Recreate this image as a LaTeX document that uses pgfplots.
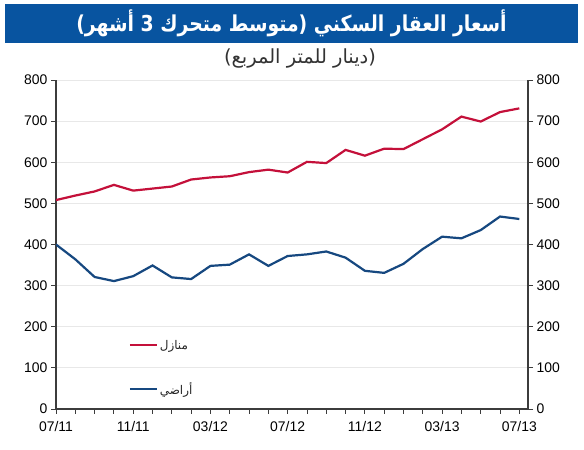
\documentclass[border=0pt]{standalone}
\usepackage{pgfplots}
\pgfplotsset{compat=1.18}
\usepackage{pgfplotstable}
\usepackage{graphicx}
\usepackage{fontspec}
\setmainfont{Liberation Sans}
\newfontfamily\arabicfont[Script=Arabic]{DejaVu Sans}
\TeXXeTstate=1

\definecolor{titleblue}{RGB}{8,84,160}
\definecolor{housered}{RGB}{196,16,58}
\definecolor{landblue}{RGB}{22,72,128}
\definecolor{gridgray}{RGB}{232,232,232}
\definecolor{axisgray}{RGB}{60,60,60}

% Residential property prices, 3-month moving average (dinar per square metre)
% m = months since 07/11
\pgfplotstableread{
m  house land
0  508   400
1  519   364
2  529   321
3  545   311
4  531   323
5  536   349
6  541   320
7  558   316
8  563   348
9  566   351
10 576   376
11 582   348
12 575   372
13 601   376
14 598   383
15 630   368
16 616   336
17 633   331
18 632   353
19 656   389
20 680   419
21 711   415
22 699   435
23 722   468
24 731   462
}\pricedata

\pgfplotsset{
  common/.style={
    at={(56bp,41bp)}, anchor=south west,
    scale only axis, width=472bp, height=329bp,
    xmin=0, xmax=24.45, ymin=0, ymax=800,
    ytick={0,100,...,800},
    tick align=outside,
    major tick length=5bp, minor tick length=5bp,
    tick style={axisgray, line width=0.9bp},
    axis line style={axisgray, line width=1.1bp},
    tick label style={font=\fontsize{14}{16}\selectfont, text=black},
    /pgf/number format/assume math mode=true,
  }
}

\begin{document}
\begin{tikzpicture}[x=1bp,y=1bp]
\path[use as bounding box] (0,0) rectangle (584,450);
\fill[white] (0,0) rectangle (584,450);

% title band
\fill[titleblue] (5,407) rectangle (578,446);
\node[text=white] at (291.5,426.5)
  {\scalebox{0.86}[1]{\arabicfont\fontsize{22}{26}\selectfont\bfseries\beginR أسعار العقار السكني (متوسط متحرك 3 أشهر)\endR}};
\node[text=black!80] at (300,391)
  {\arabicfont\fontsize{19.5}{23}\selectfont\beginR (دينار للمتر المربع)\endR};

\begin{axis}[common,
  axis x line*=bottom, axis y line*=left,
  xtick={0,4,...,24},
  xticklabels={07/11,11/11,03/12,07/12,11/12,03/13,07/13},
  xticklabel style={yshift=-4bp},
  minor xtick={0,1,...,24},
  ymajorgrids, grid style={gridgray, line width=0.9bp},
  legend style={at={(axis cs:3.6,178)}, anchor=north west,
    draw=none, fill=none, row sep=28bp,
    font=\fontsize{12}{14}\selectfont, text=black!85},
  legend cell align=left,
  legend image code/.code={\draw[#1] (0bp,0bp) -- (27bp,0bp);},
]
\addplot[housered, line width=2.2bp] table[x=m, y=house] {\pricedata};
\addlegendentry{\arabicfont\beginR منازل\endR}
\addplot[landblue, line width=2.2bp] table[x=m, y=land] {\pricedata};
\addlegendentry{\arabicfont\beginR أراضي\endR}
\end{axis}

\begin{axis}[common,
  axis x line=none, axis y line*=right,
]
\addplot[draw=none] coordinates {(0,0)};
\end{axis}
\end{tikzpicture}
\end{document}
